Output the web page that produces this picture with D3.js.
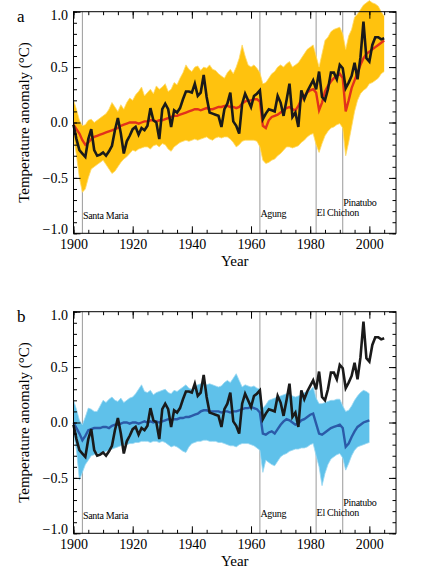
<!DOCTYPE html>
<html><head><meta charset="utf-8">
<script src="https://cdn.jsdelivr.net/npm/d3@7"></script>
<style>
body{margin:0;background:#fff}
svg{display:block}
text{font-family:"Liberation Serif","Times New Roman",serif;fill:#000}
</style>
</head><body><svg id="c" width="437" height="576"></svg>
<script>
// ---------- DATA ----------
const firstYear = 1900;
// Observed global temperature anomaly (black)
const observed = [
-0.02,-0.15,-0.25,-0.28,-0.31,-0.15,-0.06,-0.25,-0.30,-0.29,
-0.27,-0.30,-0.26,-0.21,-0.07,0.04,-0.10,-0.28,-0.17,-0.12,
-0.06,-0.04,-0.11,-0.05,-0.07,-0.03,0.13,0.02,0.00,-0.15,
0.12,0.17,0.12,-0.04,0.11,0.09,0.13,0.21,0.28,0.28,
0.27,0.35,0.24,0.27,0.43,0.23,0.09,0.08,0.07,0.06,
-0.04,0.12,0.17,0.27,0.01,-0.03,-0.10,0.17,0.26,0.20,
0.14,0.24,0.26,0.29,0.03,0.08,0.12,0.11,0.10,0.24,
0.18,0.06,0.20,0.35,0.05,0.09,-0.04,0.29,0.21,0.28,
0.33,0.38,0.30,0.46,0.23,0.20,0.30,0.45,0.45,0.39,
0.52,0.49,0.31,0.36,0.42,0.54,0.39,0.59,0.91,0.58,
0.55,0.70,0.77,0.77,0.75,0.76];
// All-forcing multi-model mean (red) and ensemble envelope (yellow)
const allForcingMean = [
-0.02,-0.06,-0.10,-0.16,-0.20,-0.18,-0.15,-0.13,-0.12,-0.11,
-0.10,-0.09,-0.08,-0.07,-0.06,-0.05,-0.03,-0.02,-0.01,0.00,
0.00,0.00,-0.01,0.00,0.01,0.01,0.02,0.02,0.01,0.02,
0.02,0.03,0.04,0.05,0.06,0.06,0.07,0.08,0.09,0.10,
0.11,0.12,0.12,0.11,0.12,0.13,0.12,0.12,0.13,0.14,
0.14,0.15,0.15,0.14,0.14,0.13,0.14,0.17,0.19,0.20,
0.20,0.21,0.21,0.19,-0.03,-0.05,0.02,0.05,0.06,0.07,
0.09,0.11,0.13,0.14,0.12,0.11,0.15,0.21,0.24,0.27,
0.29,0.30,0.27,0.11,0.18,0.28,0.33,0.37,0.40,0.42,
0.44,0.40,0.10,0.20,0.31,0.38,0.45,0.52,0.58,0.62,
0.64,0.66,0.68,0.70,0.72,0.74];
const allForcingUpper = [
0.20,0.12,0.02,-0.03,-0.02,0.02,0.03,0.00,0.02,0.04,
0.06,0.08,0.12,0.18,0.14,0.10,0.16,0.12,0.18,0.22,
0.20,0.25,0.28,0.32,0.24,0.27,0.30,0.26,0.33,0.30,
0.32,0.35,0.28,0.30,0.36,0.34,0.40,0.45,0.52,0.48,
0.46,0.50,0.51,0.47,0.50,0.49,0.52,0.48,0.47,0.44,
0.42,0.40,0.45,0.48,0.44,0.50,0.58,0.70,0.60,0.52,
0.50,0.52,0.49,0.45,0.35,0.36,0.40,0.44,0.46,0.50,
0.52,0.50,0.53,0.55,0.50,0.52,0.54,0.58,0.62,0.66,
0.68,0.70,0.60,0.50,0.62,0.74,0.77,0.82,0.84,0.85,
0.86,0.80,0.66,0.78,0.84,0.95,0.98,1.02,1.06,1.08,
1.10,1.08,1.07,1.05,1.00,0.96];
const allForcingLower = [
-0.12,-0.30,-0.50,-0.63,-0.60,-0.50,-0.42,-0.40,-0.38,-0.36,
-0.34,-0.38,-0.42,-0.46,-0.44,-0.40,-0.36,-0.33,-0.31,-0.28,
-0.25,-0.26,-0.24,-0.23,-0.22,-0.22,-0.24,-0.21,-0.20,-0.22,
-0.19,-0.20,-0.24,-0.26,-0.22,-0.20,-0.18,-0.17,-0.16,-0.17,
-0.16,-0.15,-0.16,-0.15,-0.14,-0.13,-0.15,-0.16,-0.14,-0.13,
-0.14,-0.13,-0.13,-0.15,-0.18,-0.22,-0.20,-0.17,-0.16,-0.16,
-0.16,-0.16,-0.17,-0.22,-0.34,-0.37,-0.36,-0.34,-0.33,-0.30,
-0.28,-0.25,-0.22,-0.22,-0.23,-0.22,-0.21,-0.18,-0.16,-0.13,
-0.11,-0.10,-0.20,-0.27,-0.19,-0.12,-0.08,-0.05,-0.04,-0.02,
-0.01,-0.05,-0.30,-0.18,-0.04,0.10,0.20,0.26,0.29,0.31,
0.35,0.36,0.38,0.40,0.44,0.46];
// Natural-forcing multi-model mean (dark blue) and ensemble envelope (light blue)
const naturalMean = [
0.00,-0.05,-0.10,-0.16,-0.12,-0.07,-0.06,-0.05,-0.05,-0.05,
-0.04,-0.04,-0.05,-0.03,-0.02,-0.02,-0.01,0.00,0.00,-0.01,
0.00,0.00,-0.01,0.00,0.01,0.00,0.01,0.00,0.01,0.00,
0.01,0.02,0.03,0.02,0.03,0.03,0.04,0.04,0.05,0.05,
0.06,0.07,0.08,0.10,0.11,0.11,0.10,0.10,0.10,0.10,
0.09,0.10,0.10,0.09,0.10,0.10,0.11,0.12,0.13,0.13,
0.14,0.13,0.12,0.09,-0.10,-0.11,-0.09,-0.08,-0.10,-0.06,
-0.02,0.01,0.03,0.02,0.00,-0.02,-0.01,0.02,0.03,0.05,
0.07,0.08,-0.01,-0.10,-0.11,-0.09,-0.07,-0.05,-0.04,-0.03,
-0.02,-0.05,-0.22,-0.19,-0.13,-0.08,-0.04,-0.02,0.00,0.01,
0.02];
const naturalUpper = [
0.20,0.12,0.02,-0.02,0.05,0.13,0.12,0.10,0.10,0.15,
0.20,0.18,0.21,0.23,0.20,0.19,0.22,0.18,0.20,0.22,
0.23,0.26,0.30,0.34,0.28,0.27,0.29,0.25,0.27,0.28,
0.29,0.30,0.27,0.26,0.29,0.28,0.30,0.32,0.34,0.31,
0.30,0.32,0.34,0.35,0.35,0.34,0.35,0.34,0.33,0.32,
0.33,0.36,0.38,0.36,0.40,0.44,0.38,0.32,0.34,0.33,
0.32,0.33,0.31,0.30,0.13,0.16,0.20,0.21,0.22,0.23,
0.24,0.25,0.26,0.26,0.24,0.23,0.24,0.25,0.27,0.28,
0.29,0.32,0.22,0.17,0.17,0.18,0.19,0.20,0.20,0.21,
0.21,0.15,0.10,0.11,0.15,0.20,0.24,0.27,0.29,0.28,
0.26];
const naturalLower = [
-0.10,-0.25,-0.52,-0.45,-0.38,-0.34,-0.30,-0.29,-0.28,-0.28,
-0.28,-0.26,-0.25,-0.24,-0.23,-0.22,-0.21,-0.20,-0.20,-0.19,
-0.19,-0.18,-0.18,-0.17,-0.17,-0.17,-0.18,-0.17,-0.17,-0.18,
-0.17,-0.18,-0.20,-0.22,-0.21,-0.22,-0.24,-0.26,-0.27,-0.22,
-0.19,-0.18,-0.17,-0.17,-0.16,-0.16,-0.17,-0.17,-0.17,-0.18,
-0.18,-0.19,-0.20,-0.21,-0.21,-0.22,-0.20,-0.19,-0.19,-0.19,
-0.20,-0.21,-0.23,-0.25,-0.45,-0.34,-0.36,-0.38,-0.39,-0.35,
-0.31,-0.29,-0.28,-0.26,-0.25,-0.24,-0.24,-0.23,-0.23,-0.22,
-0.20,-0.19,-0.30,-0.40,-0.57,-0.46,-0.38,-0.33,-0.31,-0.29,
-0.28,-0.32,-0.43,-0.37,-0.30,-0.25,-0.22,-0.21,-0.20,-0.19,
-0.18];
const volcanoNames = ["Santa Maria","Agung","El Chichon","Pinatubo"];
const volcanoYears = [1903, 1963, 1982, 1991];
const xTickValues = [1900,1920,1940,1960,1980,2000];
const yTickValues = [-1.0,-0.5,0.0,0.5,1.0];
const panelLabels = ["a","b"];

// ---------- LAYOUT ----------
const W = 437, H = 576;
const L = 73.5, R = 396;
const panelTops = [11.7, 311.7], plotH = 221.6;
const volcanoLabelDy = [207.5, 205.5, 204.5, 194.5]; // baseline offsets from plot top
const svg = d3.select("#c");
svg.append("rect").attr("width",W).attr("height",H).attr("fill","#fff");

const x = d3.scaleLinear().domain([1900, 2009]).range([L, R]);
const toSeries = arr => arr.map((v,i)=>({year:firstYear+i, v}));

function panel(idx, bandUpper, bandLower, bandFill, bandEdge, meanArr, meanColor){
  const top = panelTops[idx], bottom = top + plotH;
  const y = d3.scaleLinear().domain([-1,1]).range([bottom, top]);
  const g = svg.append("g");

  // volcano lines
  volcanoYears.forEach(yr=>{
    g.append("line").attr("x1",x(yr)).attr("x2",x(yr)).attr("y1",top).attr("y2",bottom)
     .attr("stroke","#9a9a9a").attr("stroke-width",1);
  });

  // ensemble envelope
  const band = bandUpper.map((u,i)=>({year:firstYear+i, u, l:bandLower[i]}));
  g.append("path").datum(band)
    .attr("d", d3.area().x(d=>x(d.year)).y0(d=>y(d.l)).y1(d=>y(d.u)))
    .attr("fill", bandFill);
  ["u","l"].forEach(k=>{
    g.append("path").datum(band)
      .attr("d", d3.line().x(d=>x(d.year)).y(d=>y(d[k])))
      .attr("fill","none").attr("stroke",bandEdge).attr("stroke-width",0.8);
  });

  // mean
  g.append("path").datum(toSeries(meanArr))
    .attr("d", d3.line().x(d=>x(d.year)).y(d=>y(d.v)))
    .attr("fill","none").attr("stroke",meanColor).attr("stroke-width",2.4);
  // black observed
  g.append("path").datum(toSeries(observed))
    .attr("d", d3.line().x(d=>x(d.year)).y(d=>y(d.v)))
    .attr("fill","none").attr("stroke","#1a1a1a").attr("stroke-width",2.6);

  // frame
  g.append("rect").attr("x",L).attr("y",top).attr("width",R-L).attr("height",plotH)
    .attr("fill","none").attr("stroke","#000").attr("stroke-width",1);

  // axes with inward ticks
  const minorY = d3.range(-10,11).map(v=>v/10);
  const minorX = d3.range(1900,2010,5);
  const mk = (axis, tr) => {
    const a = g.append("g").attr("transform",tr).call(axis);
    a.select(".domain").remove();
    a.selectAll("line").attr("stroke","#000").attr("stroke-width",1);
    return a;
  };
  mk(d3.axisLeft(y).tickValues(minorY).tickSize(-3.5).tickFormat(""), `translate(${L},0)`);
  mk(d3.axisRight(y).tickValues(minorY).tickSize(-3.5).tickFormat(""), `translate(${R},0)`);
  mk(d3.axisBottom(x).tickValues(minorX).tickSize(-3.5).tickFormat(""), `translate(0,${bottom})`);
  mk(d3.axisTop(x).tickValues(minorX).tickSize(-3.5).tickFormat(""), `translate(0,${top})`);
  const ly = mk(d3.axisLeft(y).tickValues(yTickValues).tickSize(-7).tickPadding(5.5)
      .tickFormat(d=>d3.format(".1f")(d).replace("-","\u2212")), `translate(${L},0)`);
  ly.selectAll("text").attr("font-size",14).attr("font-family","Liberation Serif").attr("fill","#000")
    .attr("dy", d => d === -1 ? "0.02em" : (d === 1 ? "0.55em" : "0.32em"));
  mk(d3.axisRight(y).tickValues(yTickValues).tickSize(-7).tickFormat(""), `translate(${R},0)`);
  const lx = mk(d3.axisBottom(x).tickValues(xTickValues).tickSize(-7).tickPadding(5.5).tickFormat(d3.format("d")),
      `translate(0,${bottom})`);
  lx.selectAll("text").attr("font-size",14).attr("font-family","Liberation Serif").attr("fill","#000");
  mk(d3.axisTop(x).tickValues(xTickValues).tickSize(-7).tickFormat(""), `translate(0,${top})`);

  // volcano labels
  volcanoNames.forEach((n,i)=>{
    g.append("text").attr("x",x(volcanoYears[i])+0.5).attr("y",top+volcanoLabelDy[i])
      .attr("font-size",10).attr("letter-spacing",-0.3).text(n);
  });

  // titles
  g.append("text").attr("x",(L+R)/2).attr("y",bottom+33).attr("text-anchor","middle")
    .attr("font-size",15).text("Year");
  g.append("text").attr("transform",`translate(29,${(top+bottom)/2}) rotate(-90)`)
    .attr("text-anchor","middle").attr("font-size",15).text("Temperature anomaly (\u00B0C)");
  g.append("text").attr("x",17).attr("y",top+10.5).attr("font-size",17).text(panelLabels[idx]);
}

panel(0, allForcingUpper, allForcingLower, "#FFC20E", "#FFD966", allForcingMean, "#E2321B");
panel(1, naturalUpper, naturalLower, "#5FC1EA", "#9AD8F2", naturalMean, "#2B5AA8");
</script>
</body></html>
